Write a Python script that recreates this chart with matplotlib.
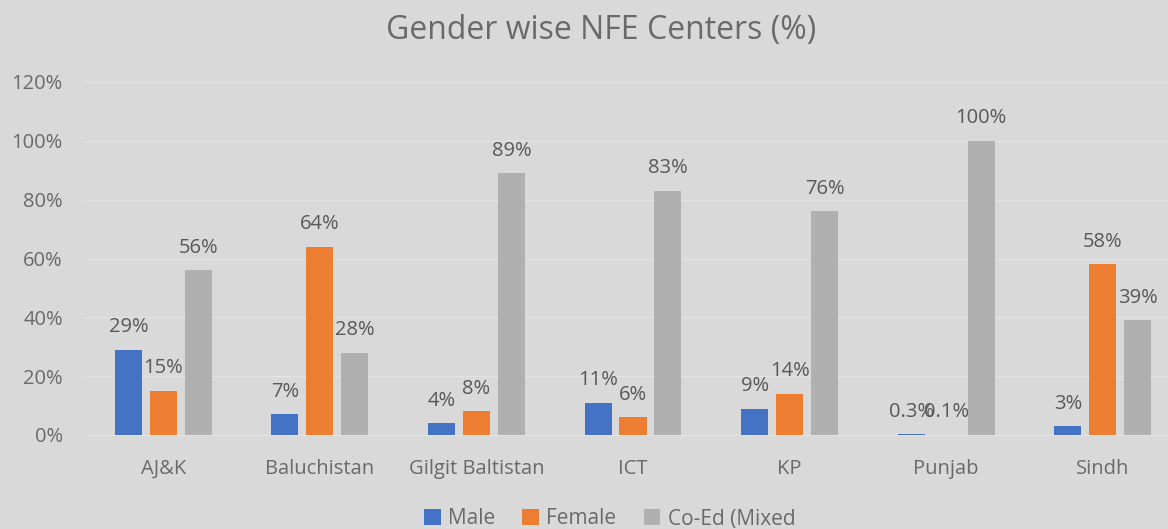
import matplotlib.pyplot as plt
import numpy as np

categories = ["AJ&K", "Baluchistan", "Gilgit Baltistan", "ICT", "KP", "Punjab", "Sindh"]
male = [29, 7, 4, 11, 9, 0.3, 3]
female = [15, 64, 8, 6, 14, 0.1, 58]
coed = [56, 28, 89, 83, 76, 100, 39]
male_lbl = ["29%", "7%", "4%", "11%", "9%", "0.3%", "3%"]
female_lbl = ["15%", "64%", "8%", "6%", "14%", "0.1%", "58%"]
coed_lbl = ["56%", "28%", "89%", "83%", "76%", "100%", "39%"]
series_names = ["Male", "Female", "Co-Ed (Mixed"]
colors = ["#4472C4", "#ED7D31", "#B0B0B0"]

plt.rcParams['font.family'] = ['Open Sans', 'DejaVu Sans']
fig = plt.figure(figsize=(11.68, 5.29), dpi=100, facecolor="#D9D9D9")
ax = fig.add_axes([85/1168, (529-435)/529, 1096/1168, (435-82)/529])
ax.set_facecolor("#D9D9D9")

x = np.arange(len(categories))
w = 0.173
off = 0.223
txtc = "#595959"
tickc = "#6A6A6A"
for i, (vals, lbls, c, name) in enumerate(zip([male, female, coed], [male_lbl, female_lbl, coed_lbl], colors, series_names)):
    bars = ax.bar(x + (i - 1) * off, vals, w, color=c, label=name, zorder=3)
    for b, v, l in zip(bars, vals, lbls):
        ax.annotate(l, (b.get_x() + b.get_width() / 2, v), xytext=(0, 9), textcoords="offset points",
                    ha="center", va="bottom", fontsize=14.5, color=txtc)

ax.set_xlim(-0.5, 6.5)
ax.set_ylim(0, 120)
ax.set_yticks(range(0, 121, 20))
ax.set_yticklabels([f"{v}%" for v in range(0, 121, 20)])
ax.set_xticks(x)
ax.set_xticklabels(categories)
ax.tick_params(axis="both", length=0, labelsize=14.5, colors=tickc)
ax.tick_params(axis="x", pad=17)
ax.tick_params(axis="y", pad=16)
ax.grid(axis="y", color="#E3E3E3", linewidth=1, zorder=0)
for s in ["top", "right", "left"]:
    ax.spines[s].set_visible(False)
ax.spines["bottom"].set_color("#E3E3E3")

fig.text(601/1168, 1 - 30/529, "Gender wise NFE Centers (%)", ha="center", va="center", fontsize=23, color=tickc)
fig.legend(loc="center", bbox_to_anchor=(0.522, 1 - 519/529), ncol=3, frameon=False, fontsize=15,
           handlelength=0.8, handleheight=0.8, handletextpad=0.35, columnspacing=1.3, labelcolor=tickc)

fig.savefig("out.png", dpi=100, facecolor=fig.get_facecolor())
